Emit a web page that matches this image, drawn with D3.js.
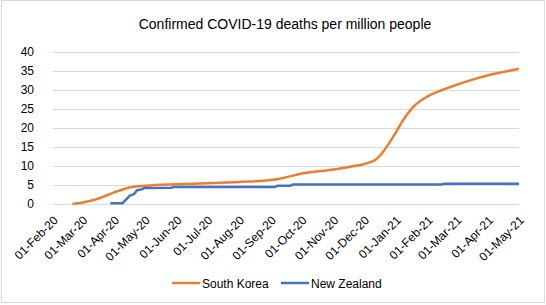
<!DOCTYPE html>
<html>
<head>
<meta charset="utf-8">
<script src="https://cdn.jsdelivr.net/npm/d3@7"></script>
<style>
  body { margin: 0; background: #fff; }
  text { font-family: "Liberation Sans", Arial, sans-serif; fill: #404040; }
</style>
</head>
<body>
<div id="chart"></div>
<script>
// data
var koreaDates = ["2020-02-20","2020-02-29","2020-03-15","2020-03-31","2020-04-15","2020-05-01","2020-06-01",
    "2020-07-01","2020-08-01","2020-09-01","2020-09-15","2020-10-01","2020-11-01","2020-11-17","2020-12-11",
    "2020-12-18","2020-12-29","2021-01-08","2021-01-18","2021-01-31","2021-02-13","2021-02-23","2021-03-15",
    "2021-04-01","2021-04-15","2021-05-01"];
var koreaValues = [0.02, 0.35, 1.3, 3.0, 4.3, 4.8, 5.2, 5.45, 5.8, 6.3, 7.0, 8.0, 9.1, 9.8, 11.5,
    13.3, 17.6, 22.1, 25.6, 28.2, 29.8, 30.8, 32.6, 33.9, 34.7, 35.6];

var nzDates = ["2020-03-28","2020-04-09","2020-04-11","2020-04-14","2020-04-16","2020-04-20","2020-04-23",
    "2020-04-28","2020-04-30","2020-05-27","2020-05-28","2020-09-05","2020-09-07","2020-09-20","2020-09-22",
    "2021-02-14","2021-02-16","2021-05-01"];
var nzValues = [0.2, 0.2, 0.8, 1.6, 2.2, 2.6, 3.6, 3.9, 4.2, 4.3, 4.5, 4.5, 4.8, 4.8, 5.1,
    5.1, 5.3, 5.3];

var yTicks = [0, 5, 10, 15, 20, 25, 30, 35, 40];
var seriesNames = ["South Korea", "New Zealand"];
var seriesColors = ["#ed7d31", "#4472c4"];

var parse = d3.timeParse("%Y-%m-%d");
var fmt = d3.timeFormat("%d-%b-%y");

var W = 546, H = 305;
var margin = {top: 52, right: 27, bottom: 101, left: 53};
var width = W - margin.left - margin.right;
var height = H - margin.top - margin.bottom;

var svg = d3.select("#chart").append("svg")
    .attr("width", W)
    .attr("height", H);

// outer chart border
svg.append("rect")
    .attr("x", 1.5).attr("y", 0.5)
    .attr("width", 543).attr("height", 302)
    .attr("fill", "none")
    .attr("stroke", "#d9d9d9");

svg.append("text")
    .attr("x", 285)
    .attr("y", 29)
    .attr("text-anchor", "middle")
    .style("font-size", "14px")
    .style("fill", "#000")
    .text("Confirmed COVID-19 deaths per million people");

var g = svg.append("g")
    .attr("transform", "translate(" + margin.left + "," + margin.top + ")");

var x = d3.scaleTime()
    .domain([parse("2020-02-01"), parse("2021-05-01")])
    .range([0, width]);

var y = d3.scaleLinear()
    .domain([0, 40])
    .range([height, 0]);

// gridlines
g.selectAll(".grid")
    .data(yTicks)
    .enter().append("line")
    .attr("class", "grid")
    .attr("x1", 0).attr("x2", width)
    .attr("y1", function(d) { return Math.round(y(d)) + 0.5; })
    .attr("y2", function(d) { return Math.round(y(d)) + 0.5; })
    .attr("stroke", "#d9d9d9")
    .attr("stroke-width", 1);

var yAxis = d3.axisLeft(y).tickValues(yTicks).tickSize(0).tickPadding(19);
g.append("g").call(yAxis)
    .call(function(s) { s.select(".domain").remove(); })
    .selectAll("text")
    .style("font-size", "12px")
    .style("fill", "#000")
    .attr("text-anchor", "end");

var months = d3.timeMonth.range(parse("2020-02-01"), d3.timeDay.offset(parse("2021-05-01"), 1));
var xAxis = d3.axisBottom(x).tickValues(months).tickSize(0).tickFormat(fmt);
var xg = g.append("g")
    .attr("transform", "translate(0," + height + ")")
    .call(xAxis);
xg.select(".domain").remove();
xg.selectAll("text")
    .style("font-size", "12px")
    .style("fill", "#000")
    .attr("text-anchor", "end")
    .attr("dx", 0).attr("dy", 0)
    .attr("transform", "translate(3,15) rotate(-45)");

var line = d3.line()
    .x(function(d) { return x(d.date); })
    .y(function(d) { return y(d.value); });

var korea = koreaDates.map(function(d, i) { return {date: parse(d), value: koreaValues[i]}; });
var nz = nzDates.map(function(d, i) { return {date: parse(d), value: nzValues[i]}; });

g.append("path")
    .datum(korea)
    .attr("fill", "none")
    .attr("stroke", seriesColors[0])
    .attr("stroke-width", 2.5)
    .attr("stroke-linejoin", "round")
    .attr("d", line.curve(d3.curveMonotoneX));

g.append("path")
    .datum(nz)
    .attr("fill", "none")
    .attr("stroke", seriesColors[1])
    .attr("stroke-width", 2.5)
    .attr("stroke-linejoin", "round")
    .attr("d", line.curve(d3.curveLinear));

// legend
var legend = svg.append("g").attr("transform", "translate(172,283)");
var lx = [0, 109];
seriesNames.forEach(function(name, i) {
    var item = legend.append("g").attr("transform", "translate(" + lx[i] + ",0)");
    item.append("line")
        .attr("x1", 0).attr("x2", 28)
        .attr("y1", 0).attr("y2", 0)
        .attr("stroke", seriesColors[i])
        .attr("stroke-width", 2.5);
    item.append("text")
        .attr("x", 30).attr("y", 4.5)
        .style("font-size", "12px")
        .style("fill", "#000")
        .text(name);
});
</script>
</body>
</html>
